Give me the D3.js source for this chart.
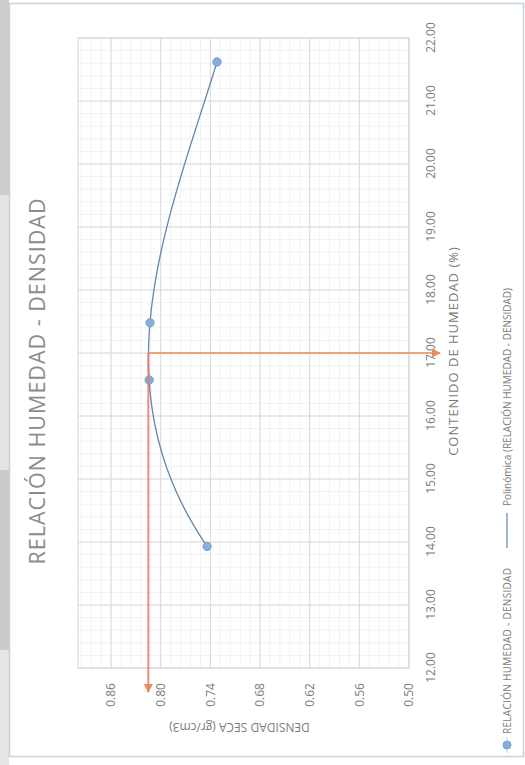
<!DOCTYPE html>
<html>
<head>
<meta charset="utf-8">
<script src="https://cdn.jsdelivr.net/npm/d3@7"></script>
<style>
  html, body { margin: 0; padding: 0; background: #fff; }
  svg { display: block; }
  text { font-family: "Open Sans", "Noto Sans", sans-serif; }
</style>
</head>
<body>
<script>
// Compaction test: moisture content (%) vs dry density (gr/cm3)
const humedad  = [13.93, 16.57, 17.48, 21.62];
const densidad = [0.744, 0.814, 0.813, 0.732];

const humedadTicks  = [12, 13, 14, 15, 16, 17, 18, 19, 20, 21, 22];
const densidadTicks = [0.50, 0.56, 0.62, 0.68, 0.74, 0.80, 0.86];

// Optimum moisture content and maximum dry density
const humedadOptima = [17.0];
const densidadMaxima = [0.815];

const W = 525, H = 765;
const svg = d3.select("body").append("svg").attr("width", W).attr("height", H);

// Scan edge on the left side of the sheet
const edge = [
  { y0: 0,   y1: 195, c: "#cdcdcd" },
  { y0: 195, y1: 470, c: "#e4e4e4" },
  { y0: 470, y1: 650, c: "#cbcbcb" },
  { y0: 650, y1: 765, c: "#e6e6e6" }
];
svg.selectAll("rect.edge").data(edge).join("rect")
  .attr("x", 0).attr("width", 9)
  .attr("y", d => d.y0).attr("height", d => d.y1 - d.y0)
  .attr("fill", d => d.c);

// Chart frame
svg.append("rect")
  .attr("x", 9.5).attr("y", 3.5).attr("width", 514).attr("height", 753)
  .attr("fill", "none").attr("stroke", "#c8d2da").attr("stroke-width", 1.5);

// The chart is laid out in its own frame and turned a quarter turn on the sheet
const g = svg.append("g").attr("transform", `translate(0,${H}) rotate(-90)`);

const x = d3.scaleLinear().domain([12, 22]).range([97, 727]);
const y = d3.scaleLinear().domain([0.50, 0.90]).range([409, 78]);

const grid = g.append("g");
// minor grid
const minorX = d3.range(12, 22.0001, 0.2);
const minorY = d3.range(0.50, 0.9001, 0.012);
grid.selectAll("line.mx").data(minorX).join("line")
  .attr("x1", d => x(d)).attr("x2", d => x(d))
  .attr("y1", y(0.90)).attr("y2", y(0.50))
  .attr("stroke", "#f2f2f2").attr("stroke-width", 1);
grid.selectAll("line.my").data(minorY).join("line")
  .attr("x1", x(12)).attr("x2", x(22))
  .attr("y1", d => y(d)).attr("y2", d => y(d))
  .attr("stroke", "#f2f2f2").attr("stroke-width", 1);
// major grid
grid.selectAll("line.gx").data(humedadTicks).join("line")
  .attr("x1", d => x(d)).attr("x2", d => x(d))
  .attr("y1", y(0.90)).attr("y2", y(0.50))
  .attr("stroke", "#dadada").attr("stroke-width", 1);
grid.selectAll("line.gy").data(densidadTicks).join("line")
  .attr("x1", x(12)).attr("x2", x(22))
  .attr("y1", d => y(d)).attr("y2", d => y(d))
  .attr("stroke", "#dadada").attr("stroke-width", 1);
grid.append("rect")
  .attr("x", x(12)).attr("y", y(0.90))
  .attr("width", x(22) - x(12)).attr("height", y(0.50) - y(0.90))
  .attr("fill", "none").attr("stroke", "#d6d6d6").attr("stroke-width", 1);

// Axes (labels only, no domain line)
const xAxis = d3.axisBottom(x).tickValues(humedadTicks).tickFormat(d3.format(".2f")).tickSize(0).tickPadding(0);
const gx = g.append("g").attr("transform", `translate(0,${y(0.50)})`).call(xAxis);
gx.select(".domain").remove();
gx.selectAll("text")
  .attr("y", 26).attr("dy", 0)
  .attr("fill", "#7b7b7b").style("font-size", "12px")
  .style("font-family", '"Open Sans", sans-serif');

const yAxis = d3.axisLeft(y).tickValues(densidadTicks).tickFormat(d3.format(".2f")).tickSize(0).tickPadding(0);
const gy = g.append("g").attr("transform", `translate(${x(12)},0)`).call(yAxis);
gy.select(".domain").remove();
gy.selectAll("text")
  .attr("x", -15)
  .attr("fill", "#7b7b7b").style("font-size", "12px")
  .style("font-family", '"Open Sans", sans-serif');

// Axis titles
g.append("text")
  .attr("x", (x(12) + x(22)) / 2 + 2).attr("y", 458)
  .attr("text-anchor", "middle").attr("fill", "#7b7b7b")
  .style("font-size", "13px").style("letter-spacing", "1px")
  .text("CONTENIDO DE HUMEDAD (%)");
g.append("text")
  .attr("transform", `translate(42,${(y(0.50) + y(0.90)) / 2 - 4}) rotate(-90)`)
  .attr("text-anchor", "middle").attr("fill", "#7b7b7b")
  .style("font-size", "12px")
  .text("DENSIDAD SECA (gr/cm3)");

// Title
g.append("text")
  .attr("x", 384).attr("y", 45)
  .attr("text-anchor", "middle").attr("fill", "#8c8c8c")
  .style("font-size", "21.5px").style("letter-spacing", "1px")
  .text("RELACIÓN HUMEDAD - DENSIDAD");

// Polynomial trendline (order 3) by least squares
const pts = humedad.map((h, i) => [h, densidad[i]]);
function polyFit(data, order) {
  const n = order + 1;
  const A = Array.from({ length: n }, () => new Array(n + 1).fill(0));
  data.forEach(([px, py]) => {
    for (let r = 0; r < n; r++) {
      for (let c = 0; c < n; c++) A[r][c] += Math.pow(px, r + c);
      A[r][n] += py * Math.pow(px, r);
    }
  });
  for (let i = 0; i < n; i++) {
    let p = i;
    for (let k = i + 1; k < n; k++) if (Math.abs(A[k][i]) > Math.abs(A[p][i])) p = k;
    [A[i], A[p]] = [A[p], A[i]];
    for (let k = i + 1; k < n; k++) {
      const f = A[k][i] / A[i][i];
      for (let c = i; c <= n; c++) A[k][c] -= f * A[i][c];
    }
  }
  const coef = new Array(n).fill(0);
  for (let i = n - 1; i >= 0; i--) {
    let s = A[i][n];
    for (let c = i + 1; c < n; c++) s -= A[i][c] * coef[c];
    coef[i] = s / A[i][i];
  }
  return v => coef.reduce((acc, a, k) => acc + a * Math.pow(v, k), 0);
}
const poly = polyFit(pts, 3);
const hMin = d3.min(humedad), hMax = d3.max(humedad);
const curve = d3.range(0, 201).map(i => {
  const h = hMin + (hMax - hMin) * i / 200;
  return [h, poly(h)];
});
g.append("path")
  .datum(curve)
  .attr("fill", "none").attr("stroke", "#6385ae").attr("stroke-width", 1.3)
  .attr("d", d3.line().x(d => x(d[0])).y(d => y(d[1])));

// Measured points
g.selectAll("circle.pt").data(pts).join("circle")
  .attr("cx", d => x(d[0])).attr("cy", d => y(d[1])).attr("r", 4.2)
  .attr("fill", "#86aedb").attr("stroke", "#7ba2cf").attr("stroke-width", 1);

// Optimum read-off arrows
const defs = svg.append("defs");
defs.append("marker")
  .attr("id", "head").attr("viewBox", "0 0 10 10")
  .attr("refX", 9).attr("refY", 5)
  .attr("markerWidth", 4.5).attr("markerHeight", 4.5)
  .attr("orient", "auto")
  .append("path").attr("d", "M0,0 L10,5 L0,10 Z").attr("fill", "#e98a5c");

const hOpt = humedadOptima[0], dMax = densidadMaxima[0];
g.append("line")
  .attr("x1", x(hOpt)).attr("y1", y(dMax))
  .attr("x2", x(hOpt)).attr("y2", y(0.50) + 31)
  .attr("stroke", "#ee9566").attr("stroke-opacity", 0.85).attr("stroke-width", 2)
  .attr("marker-end", "url(#head)");
g.append("line")
  .attr("x1", x(hOpt)).attr("y1", y(dMax))
  .attr("x2", x(12) - 24).attr("y2", y(dMax))
  .attr("stroke", "#e57a66").attr("stroke-opacity", 0.85).attr("stroke-width", 2)
  .attr("marker-end", "url(#head)");

// Legend
const lg = g.append("g").attr("transform", "translate(0,507)");
lg.append("line").attr("x1", 12).attr("x2", 28).attr("y1", 0).attr("y2", 0)
  .attr("stroke", "#b9cfe8").attr("stroke-width", 1);
lg.append("circle").attr("cx", 20).attr("cy", 0).attr("r", 4)
  .attr("fill", "#86aedb").attr("stroke", "#7ba2cf");
lg.append("text").attr("x", 31).attr("y", 3.5).attr("fill", "#7b7b7b")
  .style("font-size", "10px").style("letter-spacing", "0.3px")
  .text("RELACIÓN HUMEDAD - DENSIDAD");
lg.append("line").attr("x1", 217).attr("x2", 252).attr("y1", 0).attr("y2", 0)
  .attr("stroke", "#6385ae").attr("stroke-width", 1.2);
lg.append("text").attr("x", 259).attr("y", 3.5).attr("fill", "#7b7b7b")
  .style("font-size", "10px")
  .text("Polinómica (RELACIÓN HUMEDAD - DENSIDAD)");
</script>
</body>
</html>
